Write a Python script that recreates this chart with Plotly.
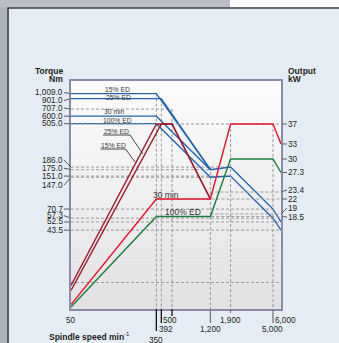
import numpy as np
import plotly.graph_objects as go

# ---------------- data ----------------
# spindle speed axis (min^-1)
speed_min, speed_max = 50, 6000
speed_tick_vals = [50, 350, 392, 500, 1200, 1900, 5000, 6000]
speed_tick_text = ["50", "350", "392", "500", "1,200", "1,900", "5,000", "6,000"]

# torque curves (Nm)
t15_speed = [50, 350, 1200]
t15_torque = [1009.0, 1009.0, 175.0]
t25_speed = [50, 392, 1200]
t25_torque = [901.0, 901.0, 175.0]
t30_speed = [50, 350, 1200, 1900, 5000, 6000]
t30_torque = [600.0, 600.0, 175.0, 186.0, 70.7, 52.5]
t100_speed = [50, 350, 1200, 1900, 5000, 6000]
t100_torque = [505.0, 505.0, 147.0, 151.0, 57.3, 43.5]

# output curves (kW)
p15_speed = [50, 350, 500, 1200]
p15_kw = [4.7, 37, 37, 22]
p25_speed = [50, 392, 500, 1200]
p25_kw = [3.7, 37, 37, 22]
p30_speed = [50, 350, 1200, 1900, 5000, 6000]
p30_kw = [0.9, 22, 22, 37, 37, 33]
p100_speed = [50, 350, 1200, 1900, 5000, 6000]
p100_kw = [0.4, 18.5, 18.5, 30, 30, 27.3]

# axis tick labels
torque_tick_vals = [1009.0, 901.0, 707.0, 600.0, 505.0, 186.0, 175.0, 151.0, 147.0, 70.7, 57.3, 52.5, 43.5]
torque_tick_text = ["1,009.0", "901.0", "707.0", "600.0", "505.0", "186.0", "175.0",
                    "151.0", "147.0", "70.7", "57.3", "52.5", "43.5"]
kw_tick_vals = [37, 33, 30, 27.3, 23.4, 22, 19, 18.5]
kw_tick_text = ["37", "33", "30", "27.3", "23.4", "22", "19", "18.5"]

# dashed reference lines
torque_ref_vals = [707.0, 186.0, 175.0, 151.0, 147.0, 70.7, 57.3, 52.5, 43.5]
torque_ref_end = [500, 1900, 1200, 1900, 1200, 5000, 5000, 6000, 6000]
kw_ref_vals = [37, 23.4, 22, 19, 18.5, 5.3]
kw_ref_start = [50, 1200, 350, 1200, 350, 50]
vert_torque_speed = [350, 392, 500, 1200]
vert_torque_top = [1009.0, 901.0, 707.0, 186.0]
vert_kw_speed = [1900, 5000]
vert_kw_top = [37, 37]

# ---------------- layout geometry / style ----------------
W, H = 339, 343
ML, MR, MT, MB = 71, 58, 81, 34
PW, PH = W - ML - MR, H - MT - MB
FONT = "Liberation Sans, Arial, Helvetica, sans-serif"
TXT = "#231f20"
BLUE = "#1f63ad"
DRED = "#9c1c2e"
RED = "#e3162d"
GREEN = "#177f3b"
GRID = "#9a9a9a"
FRAME = "#8d8aaa"

Y_LOG_RANGE = [0.85, 3.13]
Y2_RANGE = [0, 45.6]


def px(xp):
    return (xp - ML) / PW


def py(yp):
    return (MT + PH - yp) / PH


fig = go.Figure()

# dashed reference lines on torque axis
xs, ys = [], []
for v, e in zip(torque_ref_vals, torque_ref_end):
    xs += [speed_min, e, None]
    ys += [v, v, None]
for s, t in zip(vert_torque_speed, vert_torque_top):
    xs += [s, s, None]
    ys += [t, 1.0, None]
fig.add_trace(go.Scatter(x=xs, y=ys, mode="lines", yaxis="y",
                         line=dict(color=GRID, width=1, dash="3px,2px"),
                         hoverinfo="skip", showlegend=False))

# dashed reference lines on output axis
xs, ys = [], []
for v, s in zip(kw_ref_vals, kw_ref_start):
    xs += [s, speed_max, None]
    ys += [v, v, None]
for s, t in zip(vert_kw_speed, vert_kw_top):
    xs += [s, s, None]
    ys += [t, -1, None]
fig.add_trace(go.Scatter(x=xs, y=ys, mode="lines", yaxis="y2",
                         line=dict(color=GRID, width=1, dash="3px,2px"),
                         hoverinfo="skip", showlegend=False))

# output curves
for sp, kw, col in [(p15_speed, p15_kw, DRED), (p25_speed, p25_kw, DRED),
                    (p30_speed, p30_kw, RED), (p100_speed, p100_kw, GREEN)]:
    fig.add_trace(go.Scatter(x=sp, y=kw, mode="lines", yaxis="y2",
                             line=dict(color=col, width=1.4),
                             hoverinfo="skip", showlegend=False))

# torque curves
for sp, tq in [(t15_speed, t15_torque), (t25_speed, t25_torque),
               (t30_speed, t30_torque), (t100_speed, t100_torque)]:
    fig.add_trace(go.Scatter(x=sp, y=tq, mode="lines", yaxis="y",
                             line=dict(color=BLUE, width=1.3),
                             hoverinfo="skip", showlegend=False))

shapes = []
# outer decoration
shapes.append(dict(type="rect", xref="paper", yref="paper", x0=px(0), x1=px(7.5),
                   y0=py(H), y1=py(0), fillcolor="#afb3bb", line_width=0, layer="below"))
shapes.append(dict(type="rect", xref="paper", yref="paper", x0=px(0), x1=px(230),
                   y0=py(7.5), y1=py(0), fillcolor="#b9bdc5", line_width=0, layer="below"))
shapes.append(dict(type="rect", xref="paper", yref="paper", x0=px(230), x1=px(W),
                   y0=py(7.5), y1=py(0), fillcolor="#ffffff", line_width=0, layer="below"))
shapes.append(dict(type="path", xref="paper", yref="paper",
                   path=f"M{px(8)},{py(H)} L{px(8)},{py(8)} L{px(W)},{py(8)}",
                   line=dict(color="#3d3d3f", width=1.6), layer="below"))

# plot area gradient (white at top, light grey at bottom)
n_bands = 60
c_top = np.array([253, 253, 253])
c_bot = np.array([226, 226, 229])
for i in range(n_bands):
    f = (i + 0.5) / n_bands
    c = c_top + (c_bot - c_top) * f
    shapes.append(dict(type="rect", xref="paper", yref="paper", x0=0, x1=1,
                       y0=1 - (i + 1) / n_bands, y1=1 - i / n_bands + 0.001,
                       fillcolor=f"rgb({int(c[0])},{int(c[1])},{int(c[2])})",
                       line_width=0, layer="below"))

# tick marks below the speed axis
tick_len = {50: 0, 350: 22, 392: 14, 500: 7, 1200: 14, 1900: 4, 5000: 14, 6000: 2}
tick_col = {350: "#111111", 392: "#111111", 500: "#111111"}
for s in speed_tick_vals:
    L = tick_len[s]
    if L:
        shapes.append(dict(type="line", xref="x", yref="paper", x0=s, x1=s,
                           y0=0, y1=-L / PH, line=dict(color=tick_col.get(s, "#7a7a7a"), width=1.3)))

# underline + leader for the dark red curve labels
shapes.append(dict(type="path", xref="paper", yref="paper",
                   path=f"M{px(103)},{py(135)} L{px(130)},{py(135)} L{px(143)},{py(154)}",
                   line=dict(color="#333333", width=0.9)))
shapes.append(dict(type="path", xref="paper", yref="paper",
                   path=f"M{px(100.5)},{py(149)} L{px(125.5)},{py(149)} L{px(135)},{py(162)}",
                   line=dict(color="#333333", width=0.9)))

annotations = []

# torque labels (left)
torque_label_shift = [-1, 2, -1, 0, 0, -7, -1.5, 0, 8, 0, -2.5, 0, 0]
for v, t, sh in zip(torque_tick_vals, torque_tick_text, torque_label_shift):
    annotations.append(dict(x=0, xref="paper", y=np.log10(v), yref="y", text=t,
                            showarrow=True, arrowhead=0, arrowwidth=0.8, arrowcolor="#333333",
                            ax=-7, ay=sh, axref="pixel", ayref="pixel", standoff=1.5,
                            xanchor="right", yanchor="middle", borderpad=0,
                            font=dict(family=FONT, size=8.2, color=TXT)))

# output labels (right)
kw_label_shift = [0, 0, 0, 0, -2, 0, -6, 0.5]
for v, t, sh in zip(kw_tick_vals, kw_tick_text, kw_label_shift):
    annotations.append(dict(x=1, xref="paper", y=v, yref="y2", text=t,
                            showarrow=True, arrowhead=0, arrowwidth=0.8, arrowcolor="#333333",
                            ax=6, ay=sh, axref="pixel", ayref="pixel", standoff=1.5,
                            xanchor="left", yanchor="middle", borderpad=0,
                            font=dict(family=FONT, size=8.2, color=TXT)))

# speed labels (three staggered rows)
row_y = {50: 320, 500: 320, 1900: 320, 6000: 320, 392: 329, 1200: 329, 5000: 329, 350: 340}
row_dx = {392: 5, 500: -2, 6000: 4, 5000: -1}
for s, t in zip(speed_tick_vals, speed_tick_text):
    annotations.append(dict(x=np.log10(s), xref="x", y=py(row_y[s]), yref="paper", text=t,
                            showarrow=False, xanchor="center", yanchor="middle",
                            xshift=row_dx.get(s, 0),
                            font=dict(family=FONT, size=8.2, color=TXT)))

# axis titles
annotations += [
    dict(x=px(65), y=py(71.5), xref="paper", yref="paper", text="<b>Torque</b>",
         showarrow=False, xanchor="right", yanchor="middle", font=dict(family=FONT, size=8.5, color=TXT)),
    dict(x=px(65), y=py(79), xref="paper", yref="paper", text="<b>Nm</b>",
         showarrow=False, xanchor="right", yanchor="middle", font=dict(family=FONT, size=8.5, color=TXT)),
    dict(x=px(286), y=py(71.5), xref="paper", yref="paper", text="<b>Output</b>",
         showarrow=False, xanchor="left", yanchor="middle", font=dict(family=FONT, size=8.5, color=TXT)),
    dict(x=px(286), y=py(79), xref="paper", yref="paper", text="<b>kW</b>",
         showarrow=False, xanchor="left", yanchor="middle", font=dict(family=FONT, size=8.5, color=TXT)),
    dict(x=px(47), y=py(336), xref="paper", yref="paper",
         text="<b>Spindle speed min</b><sup>-1</sup>",
         showarrow=False, xanchor="left", yanchor="middle", font=dict(family=FONT, size=8.5, color=TXT)),
]

# curve labels
small = dict(family=FONT, size=6.8, color="#3a3a3a")
for txt, xc, yc in [("15% ED", 117, 89), ("25% ED", 118, 97.3), ("30 min", 114, 111),
                    ("100% ED", 117, 120), ("25% ED", 116.5, 131.5), ("15% ED", 113, 145)]:
    annotations.append(dict(x=px(xc), y=py(yc), xref="paper", yref="paper", text=txt,
                            showarrow=False, xanchor="center", yanchor="middle", font=small))
big = dict(family=FONT, size=8.5, color="#333333")
annotations.append(dict(x=px(166), y=py(195), xref="paper", yref="paper", text="30 min",
                        showarrow=False, xanchor="center", yanchor="middle", font=big))
annotations.append(dict(x=px(183), y=py(212), xref="paper", yref="paper", text="100% ED",
                        showarrow=False, xanchor="center", yanchor="middle", font=big))

fig.update_layout(
    template="none",
    width=W, height=H,
    margin=dict(l=ML, r=MR, t=MT, b=MB, pad=0),
    paper_bgcolor="#e5ecf4",
    plot_bgcolor="#fdfdfd",
    showlegend=False,
    xaxis=dict(type="log", range=[np.log10(speed_min), np.log10(speed_max)],
               showgrid=False, zeroline=False, showticklabels=False, ticks="",
               showline=True, linecolor=FRAME, linewidth=1.5, mirror=True, automargin=False),
    yaxis=dict(type="log", range=Y_LOG_RANGE, showgrid=False, zeroline=False,
               showticklabels=False, ticks="", showline=True, linecolor=FRAME,
               linewidth=1.5, automargin=False),
    yaxis2=dict(range=Y2_RANGE, overlaying="y", side="right", showgrid=False,
                zeroline=False, showticklabels=False, ticks="", showline=True,
                linecolor=FRAME, linewidth=1.5, automargin=False),
    shapes=shapes,
    annotations=annotations,
)

fig.write_html("out.html")
